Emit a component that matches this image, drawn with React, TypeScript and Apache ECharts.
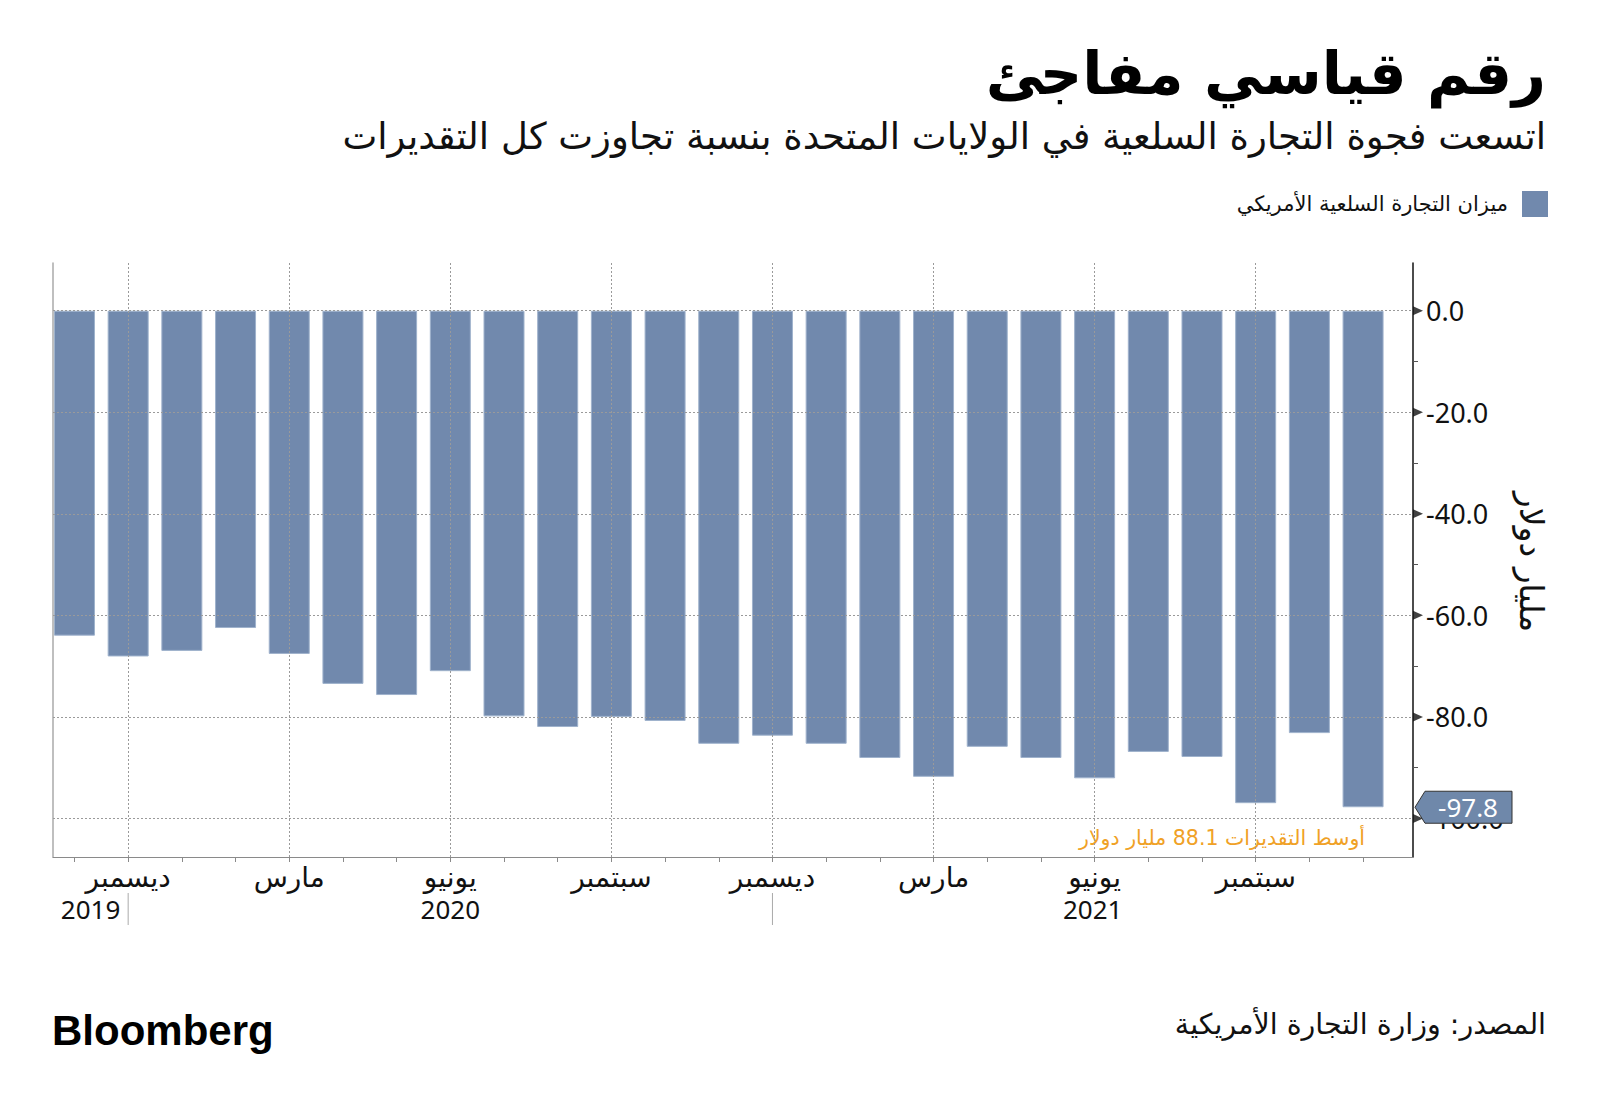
import React, { useEffect, useRef } from "react";
import * as echarts from "echarts";

const months = [
  "نوفمبر", "ديسمبر", "يناير", "فبراير", "مارس", "أبريل", "مايو", "يونيو", "يوليو", "أغسطس", "سبتمبر", "أكتوبر",
  "نوفمبر", "ديسمبر", "يناير", "فبراير", "مارس", "أبريل", "مايو", "يونيو", "يوليو", "أغسطس", "سبتمبر", "أكتوبر", "نوفمبر",
];
const values = [
  -64.0, -68.1, -67.0, -62.5, -67.6, -73.5, -75.7, -71.0, -79.9, -82.0, -80.0, -80.8,
  -85.3, -83.7, -85.3, -88.1, -91.8, -85.9, -88.1, -92.1, -86.9, -87.9, -97.0, -83.2, -97.8,
];
const labeledIdx = [1, 4, 7, 10, 13, 16, 19, 22];
const yTicks = [0, -20, -40, -60, -80, -100];
const yMinorTicks = [-10, -30, -50, -70, -90];
const years = ["2019", "2020", "2021"];
const yearDividers = [1, 13];
const consensus = 88.1;

const TITLE = "رقم قياسي مفاجئ";
const SUBTITLE = "اتسعت فجوة التجارة السلعية في الولايات المتحدة بنسبة تجاوزت كل التقديرات";
const LEGEND = "ميزان التجارة السلعية الأمريكي";
const Y_NAME = "مليار دولار";
const SOURCE = "المصدر: وزارة التجارة الأمريكية";
const NOTE = `أوسط التقديرات ${consensus} مليار دولار`;

const BAR = "#7189ad";
const AR_FONT = "'DejaVu Sans', 'Noto Sans', sans-serif";
const NUM_FONT = "'Noto Sans', 'DejaVu Sans', sans-serif";

const X_MIN = -0.4;
const X_MAX = 24.93;
const Y_MIN = -107.6;
const Y_MAX = 9.4;

export default function App() {
  const ref = useRef<HTMLDivElement>(null);
  useEffect(() => {
    document.body.style.margin = "0";
    const chart = echarts.init(ref.current!, null, { renderer: "svg" });
    const option: any = {
      animation: false,
      backgroundColor: "#ffffff",
      grid: { left: 53, right: 187, top: 263, bottom: 251 },
      xAxis: {
        type: "value",
        min: X_MIN,
        max: X_MAX,
        axisLine: { show: true, onZero: false, lineStyle: { color: "#8a8a8a", width: 1 } },
        axisTick: {
          show: true,
          customValues: values.map((_, i) => i),
          length: 5,
          lineStyle: { color: "#8a8a8a" },
        },
        axisLabel: {
          customValues: labeledIdx,
          formatter: (v: number) => months[Math.round(v)],
          fontSize: 28,
          fontFamily: AR_FONT,
          color: "#111",
          margin: 6,
        },
        splitLine: { show: false },
      },
      yAxis: [
        {
          type: "value",
          position: "right",
          min: Y_MIN,
          max: Y_MAX,
          axisLine: { show: true, onZero: false, lineStyle: { color: "#111", width: 1.5 } },
          axisTick: {
            show: true,
            customValues: yMinorTicks,
            length: 5,
            lineStyle: { color: "#555" },
          },
          axisLabel: {
            customValues: yTicks,
            formatter: (v: number) => v.toFixed(1),
            fontSize: 27,
            fontFamily: NUM_FONT,
            color: "#111",
            margin: 13,
          },
          splitLine: { show: false },
        },
        {
          type: "value",
          position: "left",
          min: Y_MIN,
          max: Y_MAX,
          axisLine: { show: true, onZero: false, lineStyle: { color: "#aaaaaa", width: 1.5 } },
          axisTick: { show: false },
          axisLabel: { show: false },
          splitLine: { show: false },
        },
      ],
      series: [
        {
          type: "line",
          data: [],
          z: 1,
          silent: true,
          markLine: {
            silent: true,
            symbol: "none",
            label: { show: false },
            lineStyle: { color: "#9a9a9a", type: [2, 2], width: 1 },
            data: [
              ...yTicks.map((v) => ({ yAxis: v })),
              ...labeledIdx.map((i) => ({ xAxis: i })),
            ],
          },
        },
        {
          type: "bar",
          z: 2,
          barWidth: 41,
          data: values.map((v, i) => [i, v]),
          itemStyle: { color: BAR, borderColor: "#9fb2cc", borderWidth: 1 },
        },
        {
          type: "scatter",
          z: 3,
          clip: false,
          silent: true,
          symbol: "triangle",
          symbolRotate: -90,
          symbolSize: [9, 10],
          symbolOffset: [5, 0],
          itemStyle: { color: "#111" },
          data: yTicks.map((v) => [X_MAX, v]),
        },
      ],
    };
    chart.setOption(option);

    const px = (x: number, y: number) =>
      chart.convertToPixel({ xAxisIndex: 0, yAxisIndex: 0 }, [x, y]) as number[];

    const bottomY = px(0, Y_MIN)[1];
    const leftX = px(X_MIN, 0)[0];
    const rightX = px(X_MAX, 0)[0];
    const divX = yearDividers.map((i) => px(i, 0)[0]);
    const bounds = [leftX, ...divX, rightX];

    const last = values[values.length - 1];
    const tag = px(X_MAX, last);

    const graphic: any[] = [
      {
        type: "text",
        style: { text: TITLE, x: 1546, y: 73, textAlign: "right", align: "right", textVerticalAlign: "middle", verticalAlign: "middle", fontSize: 59, fontWeight: "bold", fontFamily: AR_FONT, fill: "#000" },
      },
      {
        type: "text",
        style: { text: SUBTITLE, x: 1546, y: 136, textAlign: "right", align: "right", textVerticalAlign: "middle", verticalAlign: "middle", fontSize: 37, fontFamily: AR_FONT, fill: "#111" },
      },
      { type: "rect", shape: { x: 1522, y: 191, width: 26, height: 26 }, style: { fill: BAR } },
      {
        type: "text",
        style: { text: LEGEND, x: 1508, y: 204, textAlign: "right", align: "right", textVerticalAlign: "middle", verticalAlign: "middle", fontSize: 21, fontFamily: AR_FONT, fill: "#111" },
      },
      {
        type: "text",
        x: 1531,
        y: 562,
        rotation: -Math.PI / 2,
        style: { text: Y_NAME, x: 0, y: 0, textAlign: "center", align: "center", textVerticalAlign: "middle", verticalAlign: "middle", fontSize: 33, fontFamily: AR_FONT, fill: "#111" },
      },
      {
        type: "text",
        style: { text: NOTE, x: 1365, y: 838, textAlign: "right", align: "right", textVerticalAlign: "middle", verticalAlign: "middle", fontSize: 20.5, fontFamily: AR_FONT, fill: "#f0a126" },
      },
      {
        type: "text",
        style: { text: "Bloomberg", x: 52, y: 1030, textAlign: "left", align: "left", textVerticalAlign: "middle", verticalAlign: "middle", fontSize: 42, fontWeight: "bold", fontFamily: "'Liberation Sans', Arial, sans-serif", fill: "#000" },
      },
      {
        type: "text",
        style: { text: SOURCE, x: 1546, y: 1024, textAlign: "right", align: "right", textVerticalAlign: "middle", verticalAlign: "middle", fontSize: 28.5, fontFamily: AR_FONT, fill: "#111" },
      },
      ...divX.map((x) => ({
        type: "line",
        shape: { x1: x, y1: bottomY + 36, x2: x, y2: bottomY + 68 },
        style: { stroke: "#aaaaaa", lineWidth: 1 },
      })),
      ...years.map((yr, k) => ({
        type: "text",
        style: { text: yr, x: (bounds[k] + bounds[k + 1]) / 2, y: bottomY + 52, textAlign: "center", align: "center", textVerticalAlign: "middle", verticalAlign: "middle", fontSize: 26, fontFamily: NUM_FONT, fill: "#111" },
      })),
      {
        type: "polygon",
        z: 100,
        shape: {
          points: [
            [tag[0] + 2, tag[1]],
            [tag[0] + 12, tag[1] - 16],
            [tag[0] + 99, tag[1] - 16],
            [tag[0] + 99, tag[1] + 16],
            [tag[0] + 12, tag[1] + 16],
          ],
        },
        style: { fill: "#6f88aa", stroke: "#333", lineWidth: 1 },
      },
      {
        type: "text",
        z: 101,
        style: { text: last.toFixed(1), x: tag[0] + 55, y: tag[1], textAlign: "center", align: "center", textVerticalAlign: "middle", verticalAlign: "middle", fontSize: 26, fontFamily: NUM_FONT, fill: "#ffffff" },
      },
    ];
    chart.setOption({ graphic });

    return () => chart.dispose();
  }, []);
  return <div ref={ref} style={{ width: 1600, height: 1108 }} />;
}
